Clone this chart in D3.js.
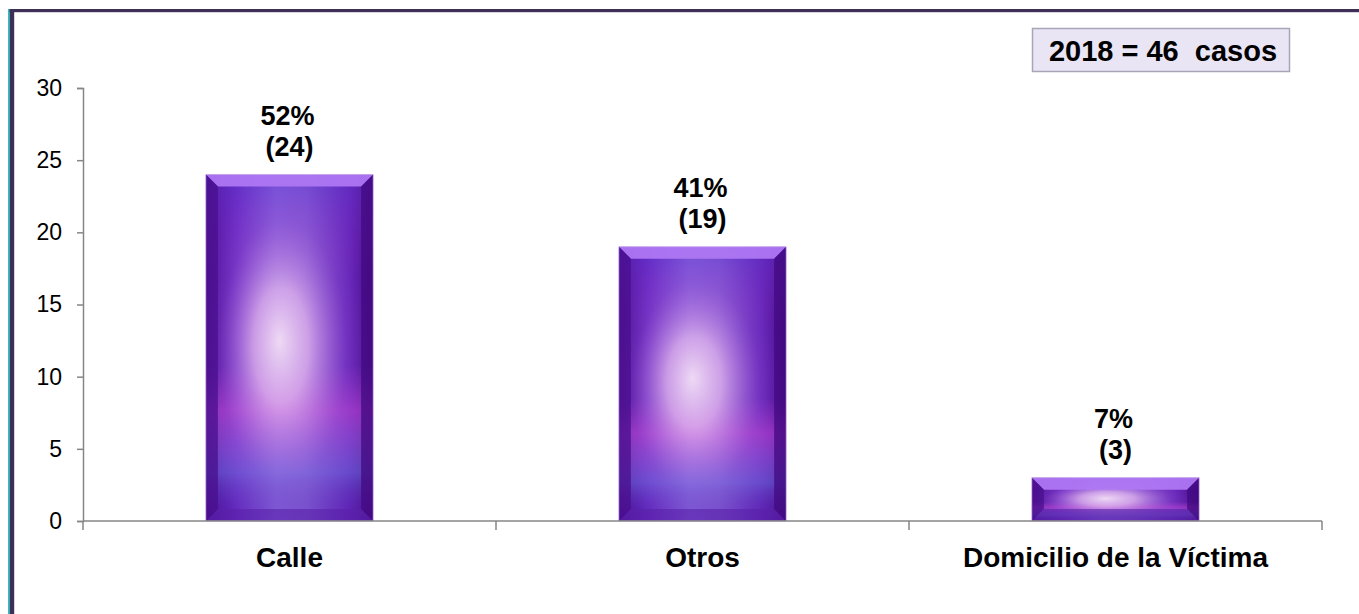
<!DOCTYPE html>
<html>
<head>
<meta charset="utf-8">
<script src="https://cdn.jsdelivr.net/npm/d3@7"></script>
<style>
  body { margin: 0; background: #fff; }
  svg { display: block; font-family: Arial, "Liberation Sans", sans-serif; }
</style>
</head>
<body>
<script>
// data
const categories = ["Calle", "Otros", "Domicilio de la Víctima"];
const cases = [24, 19, 3];
const percents = ["52%", "41%", "7%"];
const yTicks = [0, 5, 10, 15, 20, 25, 30];
const boxText = "2018 = 46  casos";

const W = 1359, H = 614;
const margin = {left: 83, right: 37, top: 88, bottom: 93};

const svg = d3.select("body").append("svg")
    .attr("width", W)
    .attr("height", H);

const defs = svg.append("defs");

// bar body: dark edges, lighter middle
let lg = defs.append("linearGradient").attr("id", "body").attr("x1", 0).attr("x2", 1).attr("y1", 0).attr("y2", 0);
[[0, "#4a0d92"], [0.18, "#6428c0"], [0.42, "#7c5cd8"], [0.6, "#7a54d0"], [0.85, "#6224b8"], [1, "#480a88"]]
    .forEach(s => lg.append("stop").attr("offset", s[0]).attr("stop-color", s[1]));

// soft glow
let rg = defs.append("radialGradient").attr("id", "glow").attr("cx", 0.47).attr("cy", 0.52).attr("r", 0.55)
    .attr("fx", 0.44).attr("fy", 0.48);
[[0, "#f4e0f6", 0.95], [0.3, "#e8b8ee", 0.75], [0.7, "#b060d8", 0.2], [1, "#9040d0", 0]]
    .forEach(s => rg.append("stop").attr("offset", s[0]).attr("stop-color", s[1]).attr("stop-opacity", s[2]));

// magenta lower band, blue streak near bottom
let mg = defs.append("linearGradient").attr("id", "mag").attr("x1", 0).attr("x2", 0).attr("y1", 0).attr("y2", 1);
[[0, "#5a3ad8", 0.35], [0.3, "#c040d0", 0], [0.55, "#c040d0", 0], [0.68, "#cc48d8", 0.5], [0.86, "#6a78e4", 0.45], [1, "#5020a0", 0]]
    .forEach(s => mg.append("stop").attr("offset", s[0]).attr("stop-color", s[1]).attr("stop-opacity", s[2]));

const x = d3.scaleBand()
    .domain(categories)
    .range([margin.left, W - margin.right])
    .padding(0);

const y = d3.scaleLinear()
    .domain([0, 30])
    .range([H - margin.bottom, margin.top]);

const barW = x.bandwidth() * 0.405;
const bevel = 12;

// frame
svg.append("rect").attr("x", 8).attr("y", 9).attr("width", 1.6).attr("height", H - 9).attr("fill", "#19c6c8");
svg.append("rect").attr("x", 9.6).attr("y", 9).attr("width", 4.6).attr("height", H - 9).attr("fill", "#3d2f56");
svg.append("rect").attr("x", 9.6).attr("y", 9).attr("width", W - 9.6).attr("height", 3.2).attr("fill", "#3d2f56");

// y axis
const yAxis = svg.append("g")
    .attr("transform", "translate(" + margin.left + ",0)")
    .call(d3.axisLeft(y).tickValues(yTicks).tickSize(6).tickPadding(15));
yAxis.select(".domain").attr("stroke", "#868686").attr("stroke-width", 1.5);
yAxis.selectAll(".tick line").attr("stroke", "#868686").attr("stroke-width", 1.5);
yAxis.selectAll(".tick text").attr("font-size", 23).attr("fill", "#000")
    .attr("font-family", "Arial, 'Liberation Sans', sans-serif");

// bars
const bars = svg.append("g").selectAll("g")
    .data(categories)
    .join("g")
    .attr("transform", (d, i) => "translate(" + (x(d) + x.bandwidth() / 2 - barW / 2) + "," + y(cases[i]) + ")");

bars.each(function(d, i) {
    const g = d3.select(this);
    const h = y(0) - y(cases[i]);
    const b = Math.min(bevel, h / 2.6);
    g.append("rect").attr("width", barW).attr("height", h).attr("fill", "url(#body)");
    g.append("rect").attr("width", barW).attr("height", h).attr("fill", "url(#mag)");
    g.append("rect").attr("width", barW).attr("height", h).attr("fill", "url(#glow)");
    // bevel faces
    g.append("polygon").attr("points", [[0, 0], [barW, 0], [barW - b, b], [b, b]].join(" "))
        .attr("fill", "#b078f4").attr("opacity", 0.92);
    g.append("polygon").attr("points", [[0, 0], [b, b], [b, h - b], [0, h]].join(" "))
        .attr("fill", "#4a0f8e").attr("opacity", 0.75);
    g.append("polygon").attr("points", [[barW, 0], [barW - b, b], [barW - b, h - b], [barW, h]].join(" "))
        .attr("fill", "#420a80").attr("opacity", 0.75);
    g.append("polygon").attr("points", [[0, h], [b, h - b], [barW - b, h - b], [barW, h]].join(" "))
        .attr("fill", "#5a22a8").attr("opacity", 0.6);
    g.append("rect").attr("width", barW).attr("height", h).attr("fill", "none")
        .attr("stroke", "#d8b8f0").attr("stroke-width", 0.8).attr("opacity", 0.7);
});

// x axis
svg.append("line")
    .attr("x1", margin.left).attr("x2", W - margin.right)
    .attr("y1", y(0)).attr("y2", y(0))
    .attr("stroke", "#868686").attr("stroke-width", 1.5);
const xTickPos = categories.map(c => x(c)).concat([W - margin.right]);
svg.append("g").selectAll("line")
    .data(xTickPos)
    .join("line")
    .attr("x1", d => d).attr("x2", d => d)
    .attr("y1", y(0)).attr("y2", y(0) + 9)
    .attr("stroke", "#868686").attr("stroke-width", 1.5);

svg.append("g").selectAll("text")
    .data(categories)
    .join("text")
    .attr("x", d => x(d) + x.bandwidth() / 2)
    .attr("y", y(0) + 46)
    .attr("text-anchor", "middle")
    .attr("font-size", 28)
    .attr("font-weight", "bold")
    .text(d => d);

// value labels
const labels = svg.append("g").selectAll("text")
    .data(categories)
    .join("text")
    .attr("text-anchor", "middle")
    .attr("font-size", 27)
    .attr("font-weight", "bold");
labels.append("tspan")
    .attr("x", d => x(d) + x.bandwidth() / 2 - 2)
    .attr("y", (d, i) => y(cases[i]) - 50)
    .text((d, i) => percents[i]);
labels.append("tspan")
    .attr("x", d => x(d) + x.bandwidth() / 2)
    .attr("y", (d, i) => y(cases[i]) - 19)
    .text((d, i) => "(" + cases[i] + ")");

// total box
svg.append("rect")
    .attr("x", 1032.5).attr("y", 28.5).attr("width", 257).attr("height", 43)
    .attr("fill", "#e9e5f4").attr("stroke", "#a9a5b9").attr("stroke-width", 1.5);
svg.append("text")
    .attr("x", 1163).attr("y", 61)
    .attr("text-anchor", "middle")
    .attr("font-size", 29)
    .attr("font-weight", "bold")
    .style("white-space", "pre")
    .text(boxText);
</script>
</body>
</html>
